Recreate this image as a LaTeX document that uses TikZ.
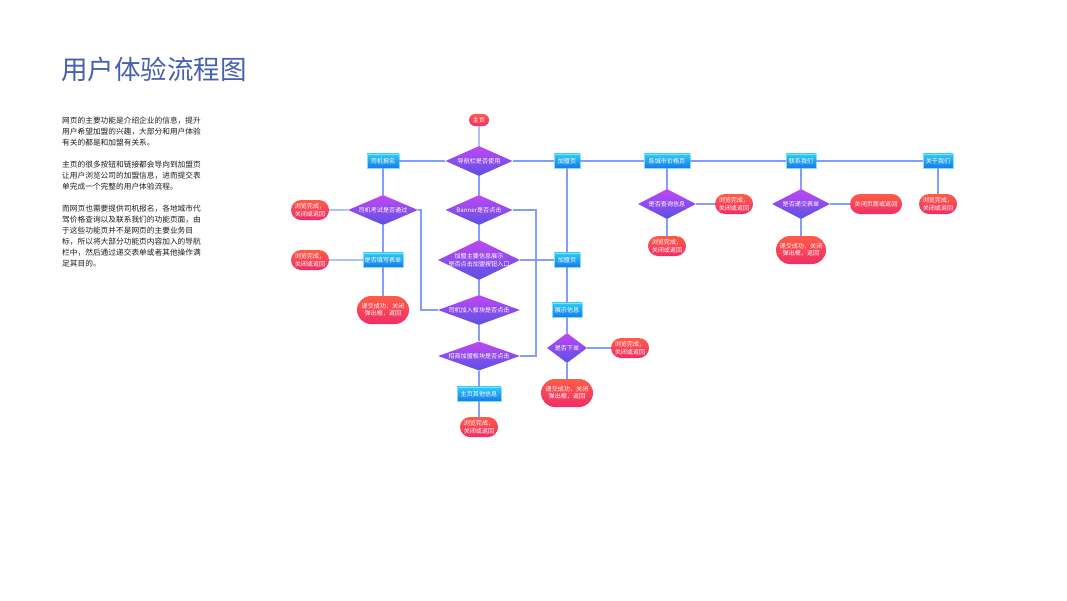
\documentclass[tikz,border=0pt]{standalone}
\usepackage{fontspec}
\newfontfamily\cjk{Noto Sans CJK SC}
\usetikzlibrary{shapes.geometric,shapes.misc}
\definecolor{titleblue}{RGB}{72,96,176}
\definecolor{linec}{RGB}{130,160,250}
\definecolor{recttop}{RGB}{45,205,248}
\definecolor{rectbot}{RGB}{25,118,232}
\definecolor{diatop}{RGB}{195,70,245}
\definecolor{diabot}{RGB}{88,82,228}
\definecolor{pilltop}{RGB}{255,92,70}
\definecolor{pillbot}{RGB}{240,45,105}
\definecolor{bodytext}{RGB}{30,30,30}
\tikzset{
  lbl/.style={text=white,font=\cjk\fontsize{6.1}{7.4}\selectfont,align=center,inner sep=0pt},
  rectbox/.style={lbl,rectangle,top color=recttop,bottom color=rectbot,draw=recttop!60!white,line width=0.4pt,minimum height=14.5,minimum width=#1},
  dia/.style n args={3}{lbl,diamond,aspect=#3,top color=diatop,bottom color=diabot,minimum width=#1,minimum height=#2},
  pill/.style n args={2}{lbl,rounded rectangle,top color=pilltop,bottom color=pillbot,minimum width=#1,minimum height=#2},
  conn/.style={draw=linec,line width=1.3pt}
}
\begin{document}
\begin{tikzpicture}[x=1pt,y=-1pt]
\fill[white] (0,0) rectangle (1067,600);
\useasboundingbox (0,0) rectangle (1067,600);
% title
\node[anchor=west,inner sep=0pt,text=titleblue,font=\cjk\fontsize{26.5}{30}\selectfont] (title) at (61,69) {用户体验流程图};
% body text
\node[anchor=north west,inner sep=0pt,text=bodytext,align=left,font=\cjk\fontsize{7.7}{11}\selectfont] (body) at (62,117) {%
网页的主要功能是介绍企业的信息，提升\\
用户希望加盟的兴趣，大部分和用户体验\\
有关的都是和加盟有关系。\\[11pt]
主页的很多按钮和链接都会导向到加盟页\\
让用户浏览公司的加盟信息，进而提交表\\
单完成一个完整的用户体验流程。\\[11pt]
而网页也需要提供司机报名，各地城市代\\
驾价格查询以及联系我们的功能页面，由\\
于这些功能页并不是网页的主要业务目\\
标，所以将大部分功能页内容加入的导航\\
栏中，然后通过递交表单或者其他操作满\\
足其目的。};
% top row
\node[pill={20}{12}] (home) at (479,120) {主页};
\node[dia={67}{30}{2.23}] (nav) at (479,161) {导航栏是否使用};
\node[rectbox=32] (siji) at (383,161) {司机报名};
\node[rectbox=26] (jm1) at (567,161) {加盟页};
\node[rectbox=46] (city) at (667,161) {各城市价格页};
\node[rectbox=30] (lianxi) at (801,161) {联系我们};
\node[rectbox=30] (guanyu) at (938,161) {关于我们};
% left column
\node[dia={70}{30}{2.33}] (kaoshi) at (383,210) {司机考试是否通过};
\node[pill={38}{20}] (l1) at (310,210) {浏览完成，\\关闭或返回};
\node[rectbox=40] (tianxie) at (383,260) {是否填写表单};
\node[pill={38}{20}] (l2) at (310,260) {浏览完成，\\关闭或返回};
\node[pill={52}{28}] (d1) at (383,310) {递交成功，关闭\\弹出框，返回};
% center column
\node[dia={67}{30}{2.23}] (banner) at (479,210) {Banner是否点击};
\node[dia={82}{40}{2.05},inner sep=-3pt] (info) at (479,260) {加盟主要信息展示\\是否点击加盟按钮入口};
\node[dia={82}{30}{2.73}] (sjjr) at (479,310) {司机加入板块是否点击};
\node[dia={82}{29}{2.83}] (zsjm) at (479,356) {招商加盟板块是否点击};
\node[rectbox=44] (qita) at (479,394) {主页其他信息};
\node[pill={38}{20}] (l3) at (479,427) {浏览完成，\\关闭或返回};
% jiameng column
\node[rectbox=26] (jm2) at (567,260) {加盟页};
\node[rectbox=30] (zhanshi) at (567,310) {展示信息};
\node[dia={40}{30}{1.33}] (xiadan) at (567,348) {是否下单};
\node[pill={38}{20}] (l4) at (630,348) {浏览完成，\\关闭或返回};
\node[pill={52}{28}] (d2) at (567,393) {递交成功，关闭\\弹出框，返回};
% city column
\node[dia={58}{30}{1.93}] (chaxun) at (667,204) {是否查询信息};
\node[pill={38}{20}] (l5) at (734,204) {浏览完成，\\关闭或返回};
\node[pill={38}{20}] (l6) at (667,246) {浏览完成，\\关闭或返回};
% contact column
\node[dia={58}{30}{1.93}] (dijiao) at (801,204) {是否递交表单};
\node[pill={52}{20}] (guanbi) at (876,204) {关闭页面或返回};
\node[pill={50}{28}] (d3) at (801,250) {递交成功，关闭\\弹出框，返回};
% about column
\node[pill={38}{20}] (l7) at (938,204) {浏览完成，\\关闭或返回};
% helper coordinates
\coordinate (kx) at (421,0);
\coordinate (bx) at (536,0);
% connectors
\draw[conn] (home) -- (nav);
\draw[conn] (nav.west) -- (siji);
\draw[conn] (nav.east) -- (jm1);
\draw[conn] (jm1) -- (city);
\draw[conn] (city) -- (lianxi);
\draw[conn] (lianxi) -- (guanyu);
\draw[conn] (siji) -- (kaoshi);
\draw[conn] (kaoshi) -- (l1);
\draw[conn] (kaoshi) -- (tianxie);
\draw[conn] (tianxie) -- (l2);
\draw[conn] (tianxie) -- (d1);
\draw[conn] (kaoshi.east) -- (kaoshi.east -| kx) |- (sjjr.west);
\draw[conn] (nav) -- (banner);
\draw[conn] (banner) -- (info);
\draw[conn] (info) -- (sjjr);
\draw[conn] (sjjr) -- (zsjm);
\draw[conn] (zsjm) -- (qita);
\draw[conn] (qita) -- (l3);
\draw[conn] (banner.east) -- (banner.east -| bx) |- (zsjm.east);
\draw[conn] (info.east) -- (jm2.west);
\draw[conn] (jm1) -- (jm2);
\draw[conn] (jm2) -- (zhanshi);
\draw[conn] (zhanshi) -- (xiadan);
\draw[conn] (xiadan) -- (l4);
\draw[conn] (xiadan) -- (d2);
\draw[conn] (city) -- (chaxun);
\draw[conn] (chaxun) -- (l5);
\draw[conn] (chaxun) -- (l6);
\draw[conn] (lianxi) -- (dijiao);
\draw[conn] (dijiao) -- (guanbi);
\draw[conn] (dijiao) -- (d3);
\draw[conn] (guanyu) -- (l7);
\end{tikzpicture}
\end{document}
